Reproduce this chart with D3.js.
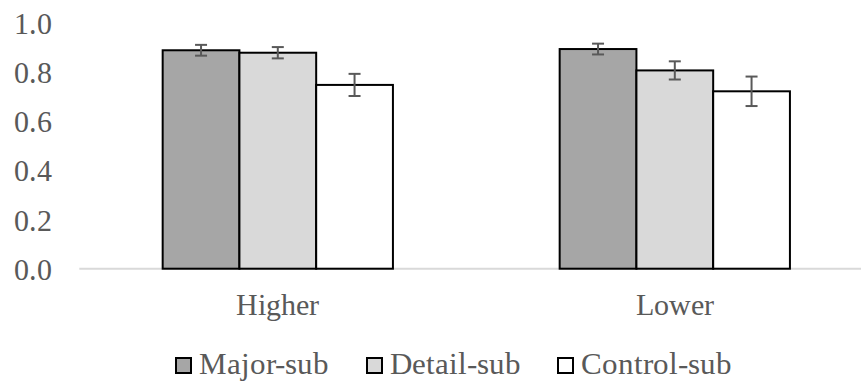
<!DOCTYPE html>
<html>
<head>
<meta charset="utf-8">
<script src="https://cdn.jsdelivr.net/npm/d3@7"></script>
<style>
  @font-face { font-family: "ChartSerif"; src: local("Liberation Serif"), local("LiberationSerif"), local("Times New Roman"), local("Tinos"); }
  html, body { margin: 0; padding: 0; background: #fff; }
  svg { display: block; }
  svg text { font-family: "ChartSerif", "Liberation Serif", "Times New Roman", serif !important; }
</style>
</head>
<body>
<svg id="chart" width="861" height="385"></svg>
<script>
const categories = ["Higher", "Lower"];
const seriesNames = ["Major-sub", "Detail-sub", "Control-sub"];
const seriesColors = ["#a6a6a6", "#d9d9d9", "#ffffff"];
const majorValues = [0.889, 0.894];
const detailValues = [0.879, 0.807];
const controlValues = [0.748, 0.722];
const majorErrors = [0.022, 0.022];
const detailErrors = [0.023, 0.037];
const controlErrors = [0.045, 0.060];
const yTicks = [0, 0.2, 0.4, 0.6, 0.8, 1.0];

const seriesValues = [majorValues, detailValues, controlValues];
const seriesErrors = [majorErrors, detailErrors, controlErrors];

const svg = d3.select("#chart");
const FONT = '"ChartSerif", "Liberation Serif", "Times New Roman", serif';
const textColor = "#595959";
const setFont = (sel, size) => sel
  .attr("font-family", FONT)
  .style("font-family", FONT, "important")
  .style("font-size", size + "px");

const y = d3.scaleLinear().domain([0, 1]).range([268.7, 23]);
const x0 = d3.scaleBand().domain(categories).range([79.3, 873.3]).paddingInner(0.42).paddingOuter(0.21);
const x1 = d3.scaleBand().domain(seriesNames).range([0, x0.bandwidth()]);

// y axis labels (no line)
const yAxis = d3.axisLeft(y).tickValues(yTicks).tickFormat(d3.format(".1f")).tickSize(0).tickPadding(0);
const yg = svg.append("g").attr("transform", "translate(52,0)").call(yAxis);
yg.attr("font-family", FONT).attr("font-size", 30);
yg.select(".domain").remove();
setFont(yg.selectAll("text"), 30)
  .attr("fill", textColor).attr("dy", "0.35em");

// x axis line
svg.append("line")
  .attr("x1", 79.3).attr("x2", 861)
  .attr("y1", y(0)).attr("y2", y(0))
  .attr("stroke", "#d9d9d9").attr("stroke-width", 2);

// bars
const groups = svg.append("g").selectAll("g")
  .data(categories).join("g")
  .attr("transform", d => `translate(${x0(d)},0)`);

groups.selectAll("rect")
  .data((c, i) => seriesNames.map((s, k) => ({ s, k, v: seriesValues[k][i], e: seriesErrors[k][i] })))
  .join("rect")
  .attr("x", d => x1(d.s))
  .attr("width", x1.bandwidth())
  .attr("y", d => y(d.v))
  .attr("height", d => y(0) - y(d.v))
  .attr("fill", d => seriesColors[d.k])
  .attr("stroke", "#000")
  .attr("stroke-width", 2);

// error bars
const errG = groups.selectAll("g.err")
  .data((c, i) => seriesNames.map((s, k) => ({ s, k, v: seriesValues[k][i], e: seriesErrors[k][i] })))
  .join("g").attr("class", "err")
  .attr("stroke", "#595959").attr("stroke-width", 2);
const cx = d => x1(d.s) + x1.bandwidth() / 2;
errG.append("line").attr("x1", cx).attr("x2", cx).attr("y1", d => y(d.v + d.e)).attr("y2", d => y(d.v - d.e));
errG.append("line").attr("x1", d => cx(d) - 6).attr("x2", d => cx(d) + 6).attr("y1", d => y(d.v + d.e)).attr("y2", d => y(d.v + d.e));
errG.append("line").attr("x1", d => cx(d) - 6).attr("x2", d => cx(d) + 6).attr("y1", d => y(d.v - d.e)).attr("y2", d => y(d.v - d.e));

// category labels
setFont(svg.selectAll("text.cat")
  .data(categories).join("text").attr("class", "cat")
  .attr("x", d => x0(d) + x0.bandwidth() / 2)
  .attr("y", 315)
  .attr("text-anchor", "middle")
  .attr("fill", textColor)
  .text(d => d), 30);

// legend
const legendX = [175, 366, 557];
svg.selectAll("rect.leg")
  .data(seriesNames).join("rect").attr("class", "leg")
  .attr("x", (d, i) => legendX[i] + 1).attr("y", 358).attr("width", 15).attr("height", 15)
  .attr("fill", (d, i) => seriesColors[i]).attr("stroke", "#000").attr("stroke-width", 2);
setFont(svg.selectAll("text.leg")
  .data(seriesNames).join("text").attr("class", "leg")
  .attr("x", (d, i) => legendX[i] + 24).attr("y", 374)
  .attr("fill", textColor)
  .text(d => d), 31);
</script>
</body>
</html>
